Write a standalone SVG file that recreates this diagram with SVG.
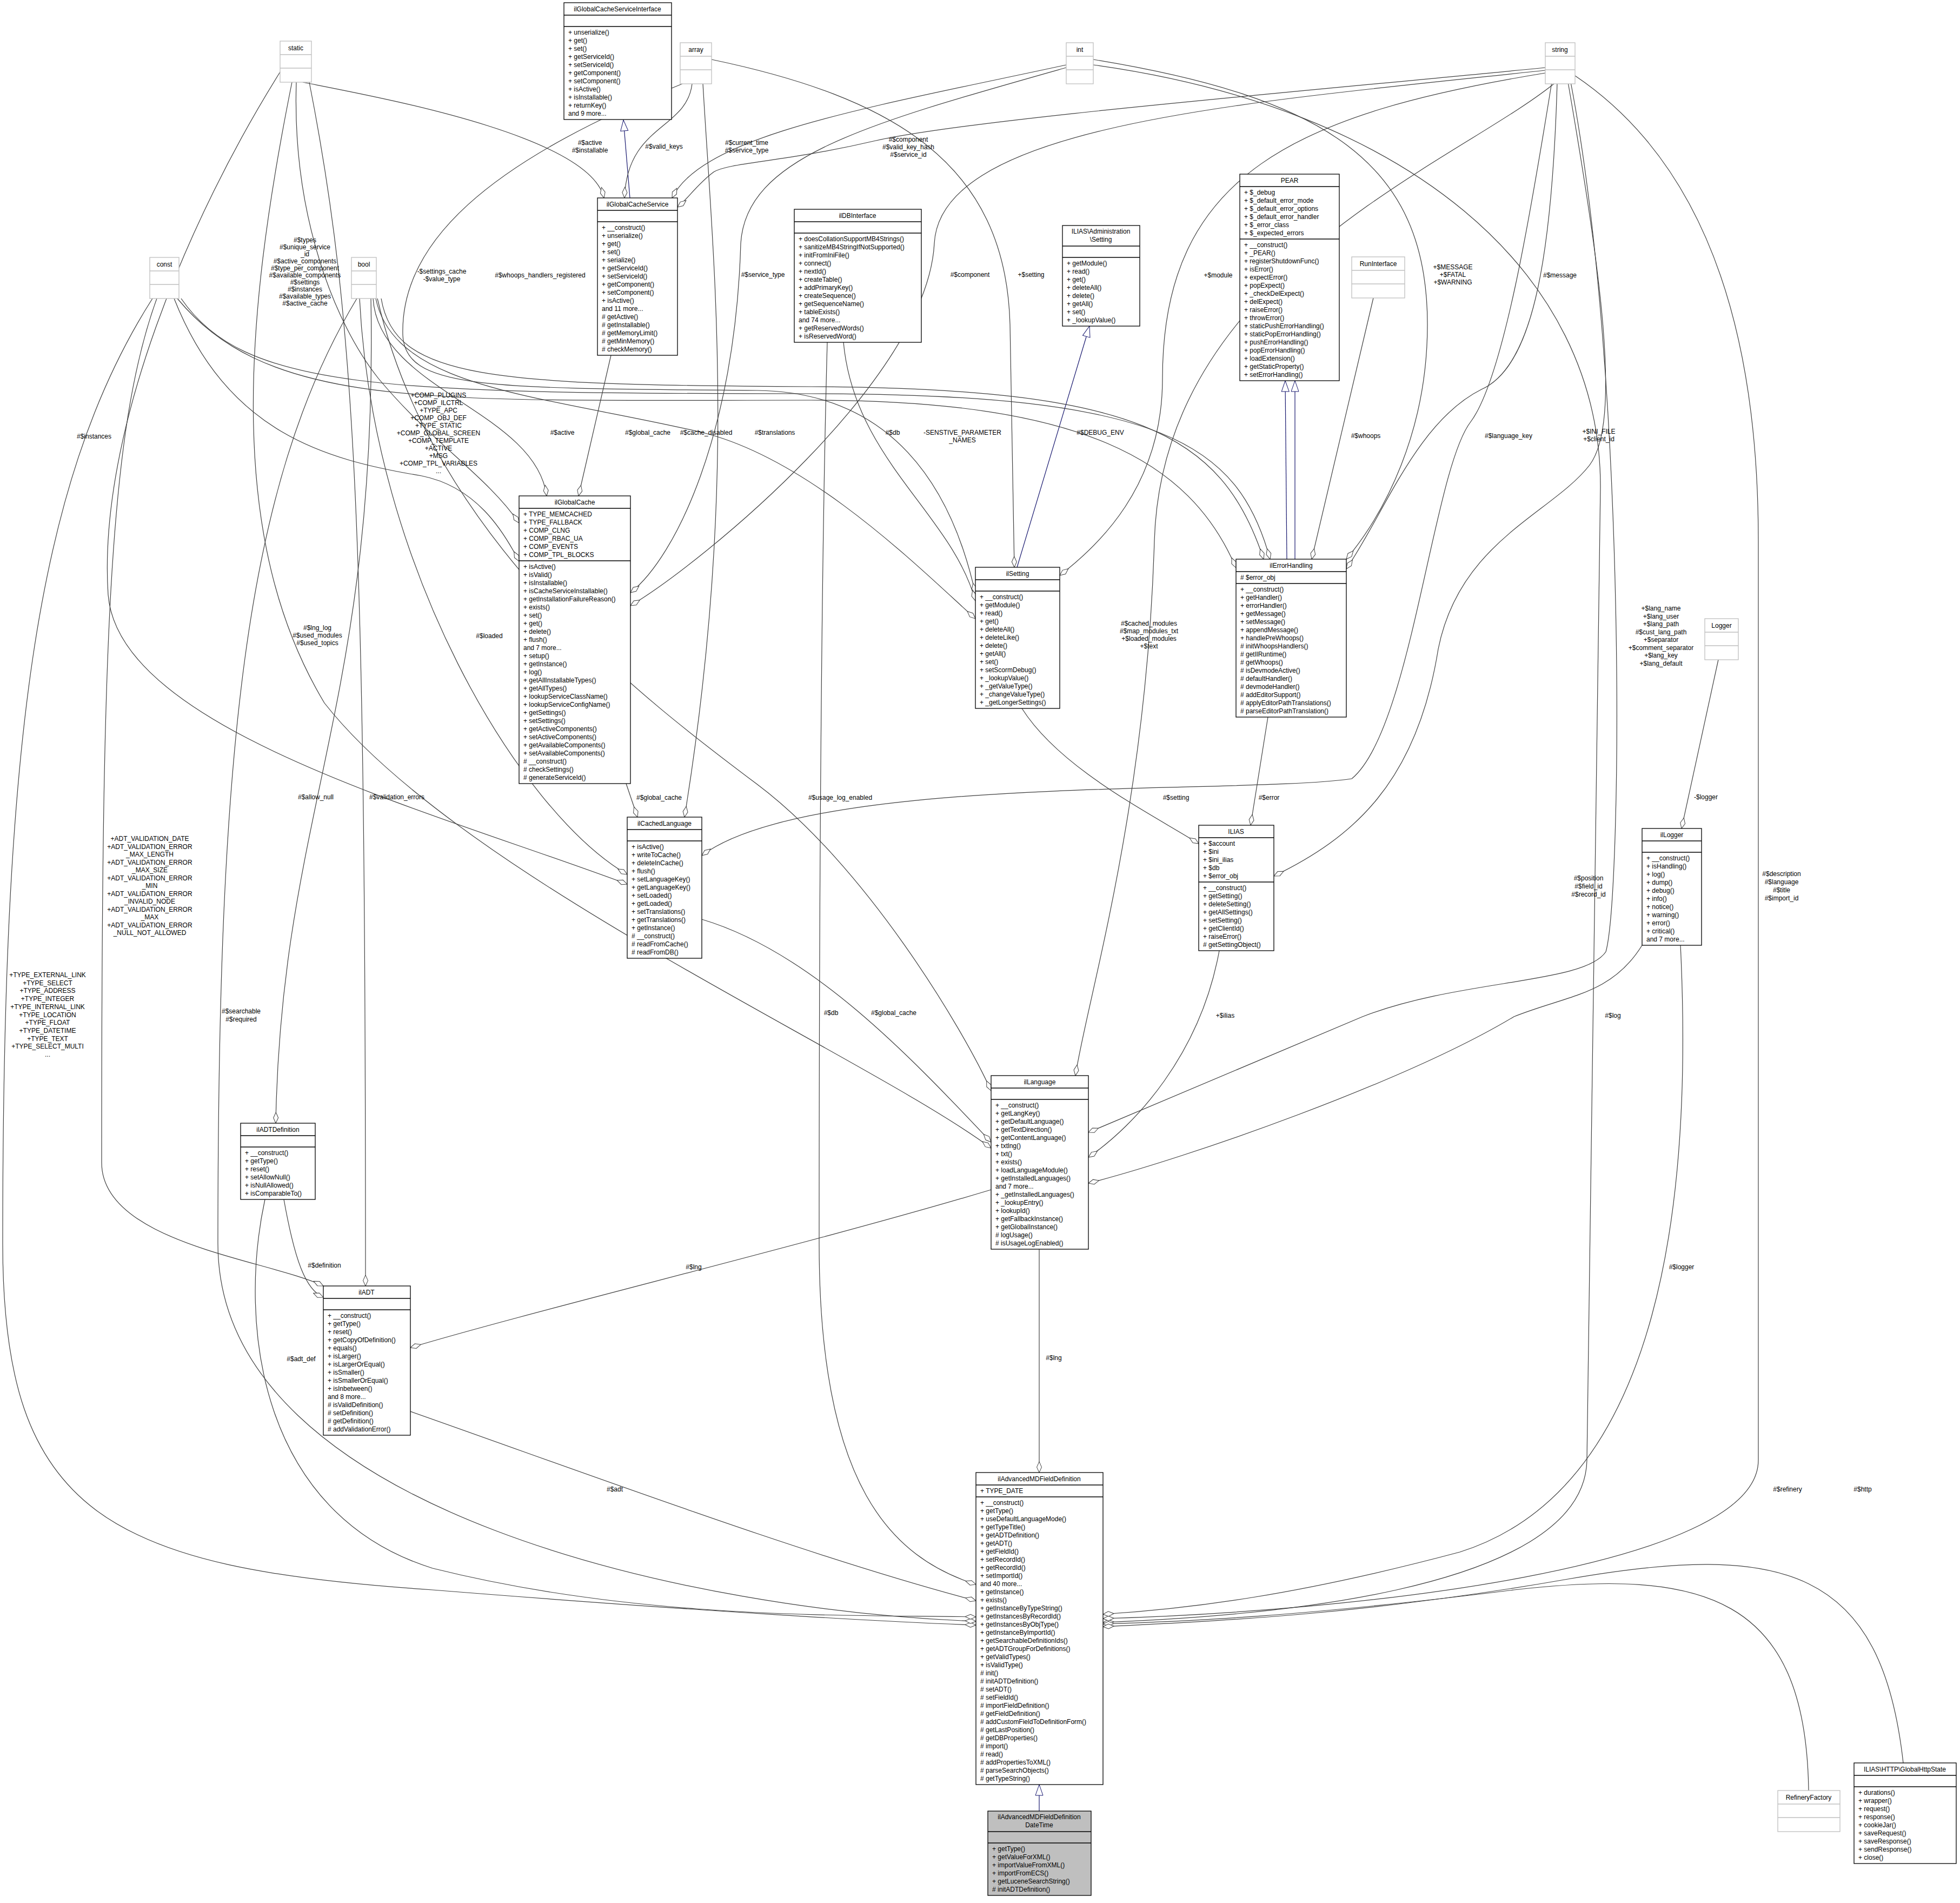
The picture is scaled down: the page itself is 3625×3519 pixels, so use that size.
<svg xmlns="http://www.w3.org/2000/svg" width="3625" height="3519" viewBox="0 0 3625 3519">
<style>
text{font-family:"Liberation Sans",Arial,sans-serif;font-size:12px;fill:#000}
.t{text-anchor:middle}
.l{text-anchor:middle}
.b{fill:#fff;stroke:#000;stroke-width:1.3}
.g{fill:#fff;stroke:#bfbfbf;stroke-width:1.3}
.s{stroke:#000;stroke-width:1.3}
.sg{stroke:#bfbfbf;stroke-width:1.3}
.e{fill:none;stroke:#404040;stroke-width:1.2;marker-end:url(#d)}
.i{fill:none;stroke:#191970;stroke-width:1.2;marker-end:url(#tr)}
</style>
<defs>
<marker id="d" viewBox="0 0 22 12" refX="21" refY="6" markerWidth="22" markerHeight="12" markerUnits="userSpaceOnUse" orient="auto"><path d="M1,6 L11,1.5 L21,6 L11,10.5 Z" fill="#fff" stroke="#404040" stroke-width="1"/></marker>
<marker id="tr" viewBox="0 0 22 16" refX="21" refY="8" markerWidth="22" markerHeight="16" markerUnits="userSpaceOnUse" orient="auto"><path d="M1,1 L21,8 L1,15 Z" fill="#fff" stroke="#191970" stroke-width="1"/></marker>
</defs>
<rect width="3625" height="3519" fill="#fff"/>

<g id="edges">
<path class="i" d="M1165,366 L1153,222"/>
<path class="i" d="M1881,1049 L2015,603"/>
<path class="i" d="M2380,1034 L2377,704"/>
<path class="i" d="M2395,1034 L2395,704"/>
<path class="i" d="M1922,3349 L1922,3300"/>

<path class="e" d="M560,152 C700,180 1090,250 1117,366"/>
<path class="e" d="M1280,155 C1270,240 1160,230 1155,366"/>
<path class="e" d="M1972,120 C1600,200 1300,250 1243,366"/>
<path class="e" d="M2858,125 C2400,170 1800,220 1620,260 C1450,300 1350,300 1320,318 C1290,340 1270,370 1253,383"/>
<path class="e" d="M548,152 C540,400 620,600 700,700 C800,820 900,880 960,967"/>
<path class="e" d="M322,552 C420,800 600,850 780,880 C880,900 930,980 960,1038"/>
<path class="e" d="M690,552 C700,720 990,760 1011,917"/>
<path class="e" d="M1130,657 L1070,917"/>
<path class="e" d="M1972,125 C1600,230 1380,290 1370,450 C1360,800 1250,1030 1166,1096"/>
<path class="e" d="M2858,130 C2300,190 1740,230 1728,450 C1715,700 1300,1040 1166,1120"/>
<path class="e" d="M1316,110 C1650,180 1860,300 1868,600 L1876,1049"/>
<path class="e" d="M2858,135 C2400,210 2150,320 2150,700 C2150,900 2030,1010 1960,1064"/>
<path class="e" d="M1262,155 C900,300 740,450 745,620 C750,720 900,718 1400,722 C1650,725 1760,900 1804,1098"/>
<path class="e" d="M1560,633 C1580,850 1760,950 1804,1111"/>
<path class="e" d="M695,552 C730,720 1000,730 1300,800 C1500,850 1700,1050 1804,1144"/>
<path class="e" d="M705,552 C730,700 900,712 1500,715 C2100,718 2260,800 2337,1034"/>
<path class="e" d="M335,552 C450,720 700,728 1500,728 C2150,728 2290,820 2349,1034"/>
<path class="e" d="M328,552 C500,760 800,740 1500,740 C2000,740 2200,850 2286,1050"/>
<path class="e" d="M2540,551 L2426,1034"/>
<path class="e" d="M2022,110 C2450,180 2640,300 2640,600 C2640,800 2560,950 2490,1034"/>
<path class="e" d="M2880,152 C2870,500 2830,680 2740,720 C2620,780 2560,950 2490,1052"/>
<path class="e" d="M1890,1310 C1960,1420 2120,1500 2217,1560"/>
<path class="e" d="M2345,1326 L2313,1526"/>
<path class="e" d="M2900,152 C2960,500 3000,780 2940,860 C2870,950 2700,1000 2660,1200 C2620,1450 2500,1550 2356,1620"/>
<path class="e" d="M1158,1449 L1179,1511"/>
<path class="e" d="M1300,155 C1320,500 1365,900 1266,1511"/>
<path class="e" d="M2870,152 C2830,400 2780,700 2720,780 C2650,870 2610,1350 2500,1440 C2300,1470 1500,1430 1298,1582"/>
<path class="e" d="M665,552 C690,1050 960,1500 1160,1617"/>
<path class="e" d="M520,130 C350,400 180,800 200,1100 C220,1350 800,1500 1160,1635"/>
<path class="e" d="M2880,150 C2700,300 2150,500 2135,1000 C2120,1500 2010,1850 1989,1989"/>
<path class="e" d="M2905,152 C3010,700 3000,1650 2970,1760 C2930,1820 2700,1810 2520,1880 L2013,2094"/>
<path class="e" d="M2255,1758 C2220,1950 2100,2080 2013,2140"/>
<path class="e" d="M3037,1748 C2980,1840 2900,1840 2800,1880 C2600,2000 2200,2140 2013,2188"/>
<path class="e" d="M1298,1700 C1500,1760 1680,1950 1833,2112"/>
<path class="e" d="M540,152 C450,600 420,1000 600,1300 C850,1620 1600,1950 1833,2123"/>
<path class="e" d="M698,552 C800,1000 1200,1300 1400,1450 C1600,1600 1780,1900 1833,2017"/>
<path class="e" d="M3178,1220 L3110,1532"/>
<path class="e" d="M686,552 C700,1300 520,1500 510,2077"/>
<path class="e" d="M572,152 C660,600 676,1000 676,2378"/>
<path class="e" d="M290,552 C200,800 188,1200 188,2150 C188,2300 500,2330 598,2378"/>
<path class="e" d="M525,2218 C545,2330 565,2385 598,2399"/>
<path class="e" d="M1833,2200 C1500,2300 1000,2420 759,2492"/>
<path class="e" d="M282,552 C60,900 5,1400 5,2300 C5,2800 200,2900 800,2940 C1300,2980 1650,3000 1805,3005"/>
<path class="e" d="M660,552 C450,900 403,1400 403,2300 C403,2800 1300,2980 1805,2998"/>
<path class="e" d="M490,2218 C440,2450 480,2800 800,2900 C1200,3000 1600,2985 1805,2990"/>
<path class="e" d="M759,2610 C1100,2730 1500,2880 1805,2960"/>
<path class="e" d="M1530,633 C1520,1000 1515,1500 1515,2300 C1515,2750 1650,2880 1805,2930"/>
<path class="e" d="M1922,2310 L1922,2723"/>
<path class="e" d="M2022,120 C2600,200 2960,500 2960,900 L2935,2700 C2930,2950 2300,2990 2040,3000"/>
<path class="e" d="M2913,140 C3150,300 3252,600 3252,1000 L3252,2700 C3252,2900 2500,2980 2040,2993"/>
<path class="e" d="M3108,1748 C3130,2200 3080,2750 2700,2870 C2400,2950 2200,2975 2040,2985"/>
<path class="e" d="M3345,3311 C3340,2950 3150,2900 2800,2940 C2400,2990 2200,2998 2040,3003"/>
<path class="e" d="M3520,3260 C3480,2900 3300,2850 2900,2920 C2500,2990 2200,3000 2040,3008"/>

<text class="l" x="1091" y="268"><tspan x="1091">#$active</tspan><tspan x="1091" dy="14">#$installable</tspan></text>
<text class="l" x="1228" y="275">#$valid_keys</text>
<text class="l" x="1381" y="268"><tspan x="1381">#$current_time</tspan><tspan x="1381" dy="14">#$service_type</tspan></text>
<text class="l" x="1680" y="262"><tspan x="1680">#$component</tspan><tspan x="1680" dy="14">#$valid_key_hash</tspan><tspan x="1680" dy="14">#$service_id</tspan></text>
<text class="l" x="564" y="448"><tspan x="564">#$types</tspan><tspan x="564" dy="13">#$unique_service</tspan><tspan x="564" dy="13">_id</tspan><tspan x="564" dy="13">#$active_components</tspan><tspan x="564" dy="13">#$type_per_component</tspan><tspan x="564" dy="13">#$available_components</tspan><tspan x="564" dy="13">#$settings</tspan><tspan x="564" dy="13">#$instances</tspan><tspan x="564" dy="13">#$available_types</tspan><tspan x="564" dy="13">#$active_cache</tspan></text>
<text class="l" x="817" y="506"><tspan x="817">-$settings_cache</tspan><tspan x="817" dy="14">-$value_type</tspan></text>
<text class="l" x="999" y="513">#$whoops_handlers_registered</text>
<text class="l" x="811" y="735"><tspan x="811">+COMP_PLUGINS</tspan><tspan x="811" dy="14">+COMP_ILCTRL</tspan><tspan x="811" dy="14">+TYPE_APC</tspan><tspan x="811" dy="14">+COMP_OBJ_DEF</tspan><tspan x="811" dy="14">+TYPE_STATIC</tspan><tspan x="811" dy="14">+COMP_GLOBAL_SCREEN</tspan><tspan x="811" dy="14">+COMP_TEMPLATE</tspan><tspan x="811" dy="14">+ACTIVE</tspan><tspan x="811" dy="14">+MSG</tspan><tspan x="811" dy="14">+COMP_TPL_VARIABLES</tspan><tspan x="811" dy="14">...</tspan></text>
<text class="l" x="174" y="811">#$instances</text>
<text class="l" x="1411" y="512">#$service_type</text>
<text class="l" x="1794" y="512">#$component</text>
<text class="l" x="1907" y="512">+$setting</text>
<text class="l" x="2253" y="513">+$module</text>
<text class="l" x="2687" y="498"><tspan x="2687">+$MESSAGE</tspan><tspan x="2687" dy="14">+$FATAL</tspan><tspan x="2687" dy="14">+$WARNING</tspan></text>
<text class="l" x="2885" y="513">#$message</text>
<text class="l" x="1040" y="804">#$active</text>
<text class="l" x="1198" y="804">#$global_cache</text>
<text class="l" x="1306" y="804">#$cache_disabled</text>
<text class="l" x="1433" y="804">#$translations</text>
<text class="l" x="1651" y="804">#$db</text>
<text class="l" x="1780" y="804"><tspan x="1780">-SENSTIVE_PARAMETER</tspan><tspan x="1780" dy="14">_NAMES</tspan></text>
<text class="l" x="2035" y="804">#$DEBUG_ENV</text>
<text class="l" x="2526" y="810">#$whoops</text>
<text class="l" x="2790" y="810">#$language_key</text>
<text class="l" x="2957" y="802"><tspan x="2957">+$INI_FILE</tspan><tspan x="2957" dy="14">+$client_id</tspan></text>
<text class="l" x="2125" y="1157"><tspan x="2125">#$cached_modules</tspan><tspan x="2125" dy="14">#$map_modules_txt</tspan><tspan x="2125" dy="14">+$loaded_modules</tspan><tspan x="2125" dy="14">+$text</tspan></text>
<text class="l" x="905" y="1180">#$loaded</text>
<text class="l" x="587" y="1165"><tspan x="587">#$lng_log</tspan><tspan x="587" dy="14">#$used_modules</tspan><tspan x="587" dy="14">#$used_topics</tspan></text>
<text class="l" x="3072" y="1129"><tspan x="3072">+$lang_name</tspan><tspan x="3072" dy="14.5">+$lang_user</tspan><tspan x="3072" dy="14.5">+$lang_path</tspan><tspan x="3072" dy="14.5">#$cust_lang_path</tspan><tspan x="3072" dy="14.5">+$separator</tspan><tspan x="3072" dy="14.5">+$comment_separator</tspan><tspan x="3072" dy="14.5">+$lang_key</tspan><tspan x="3072" dy="14.5">+$lang_default</tspan></text>
<text class="l" x="1219" y="1479">#$global_cache</text>
<text class="l" x="1554" y="1479">#$usage_log_enabled</text>
<text class="l" x="2175" y="1479">#$setting</text>
<text class="l" x="2347" y="1479">#$error</text>
<text class="l" x="3155" y="1478">-$logger</text>
<text class="l" x="584" y="1478">#$allow_null</text>
<text class="l" x="734" y="1478">#$validation_errors</text>
<text class="l" x="277" y="1555"><tspan x="277">+ADT_VALIDATION_DATE</tspan><tspan x="277" dy="14.5">+ADT_VALIDATION_ERROR</tspan><tspan x="277" dy="14.5">_MAX_LENGTH</tspan><tspan x="277" dy="14.5">+ADT_VALIDATION_ERROR</tspan><tspan x="277" dy="14.5">_MAX_SIZE</tspan><tspan x="277" dy="14.5">+ADT_VALIDATION_ERROR</tspan><tspan x="277" dy="14.5">_MIN</tspan><tspan x="277" dy="14.5">+ADT_VALIDATION_ERROR</tspan><tspan x="277" dy="14.5">_INVALID_NODE</tspan><tspan x="277" dy="14.5">+ADT_VALIDATION_ERROR</tspan><tspan x="277" dy="14.5">_MAX</tspan><tspan x="277" dy="14.5">+ADT_VALIDATION_ERROR</tspan><tspan x="277" dy="14.5">_NULL_NOT_ALLOWED</tspan></text>
<text class="l" x="88" y="1807"><tspan x="88">+TYPE_EXTERNAL_LINK</tspan><tspan x="88" dy="14.7">+TYPE_SELECT</tspan><tspan x="88" dy="14.7">+TYPE_ADDRESS</tspan><tspan x="88" dy="14.7">+TYPE_INTEGER</tspan><tspan x="88" dy="14.7">+TYPE_INTERNAL_LINK</tspan><tspan x="88" dy="14.7">+TYPE_LOCATION</tspan><tspan x="88" dy="14.7">+TYPE_FLOAT</tspan><tspan x="88" dy="14.7">+TYPE_DATETIME</tspan><tspan x="88" dy="14.7">+TYPE_TEXT</tspan><tspan x="88" dy="14.7">+TYPE_SELECT_MULTI</tspan><tspan x="88" dy="14.7">...</tspan></text>
<text class="l" x="446" y="1874"><tspan x="446">#$searchable</tspan><tspan x="446" dy="15">#$required</tspan></text>
<text class="l" x="1537" y="1877">#$db</text>
<text class="l" x="1653" y="1877">#$global_cache</text>
<text class="l" x="2266" y="1882">+$ilias</text>
<text class="l" x="2938" y="1628"><tspan x="2938">#$position</tspan><tspan x="2938" dy="15">#$field_id</tspan><tspan x="2938" dy="15">#$record_id</tspan></text>
<text class="l" x="2983" y="1882">#$log</text>
<text class="l" x="3295" y="1620"><tspan x="3295">#$description</tspan><tspan x="3295" dy="15">#$language</tspan><tspan x="3295" dy="15">#$title</tspan><tspan x="3295" dy="15">#$import_id</tspan></text>
<text class="l" x="600" y="2344">#$definition</text>
<text class="l" x="1283" y="2347">#$lng</text>
<text class="l" x="557" y="2517">#$adt_def</text>
<text class="l" x="1949" y="2515">#$lng</text>
<text class="l" x="1137" y="2758">#$adt</text>
<text class="l" x="3110" y="2347">#$logger</text>
<text class="l" x="3306" y="2758">#$refinery</text>
<text class="l" x="3445" y="2758">#$http</text>
</g>

<g id="static"><rect class="g" x="518" y="76" width="58" height="76"/><line class="sg" x1="518" y1="101" x2="576" y2="101"/><line class="sg" x1="518" y1="126" x2="576" y2="126"/><text class="t" x="547" y="93">static</text></g>
<g id="array"><rect class="g" x="1258" y="79" width="58" height="76"/><line class="sg" x1="1258" y1="104" x2="1316" y2="104"/><line class="sg" x1="1258" y1="129" x2="1316" y2="129"/><text class="t" x="1287" y="96">array</text></g>
<g id="int"><rect class="g" x="1972" y="79" width="50" height="76"/><line class="sg" x1="1972" y1="104" x2="2022" y2="104"/><line class="sg" x1="1972" y1="129" x2="2022" y2="129"/><text class="t" x="1997" y="96">int</text></g>
<g id="string"><rect class="g" x="2858" y="79" width="55" height="76"/><line class="sg" x1="2858" y1="104" x2="2913" y2="104"/><line class="sg" x1="2858" y1="129" x2="2913" y2="129"/><text class="t" x="2885" y="96">string</text></g>
<g id="const"><rect class="g" x="277" y="476" width="54" height="76"/><line class="sg" x1="277" y1="501" x2="331" y2="501"/><line class="sg" x1="277" y1="526" x2="331" y2="526"/><text class="t" x="304" y="493">const</text></g>
<g id="bool"><rect class="g" x="650" y="476" width="46" height="76"/><line class="sg" x1="650" y1="501" x2="696" y2="501"/><line class="sg" x1="650" y1="526" x2="696" y2="526"/><text class="t" x="673" y="493">bool</text></g>
<g id="RunInterface"><rect class="g" x="2500" y="475" width="98" height="76"/><line class="sg" x1="2500" y1="500" x2="2598" y2="500"/><line class="sg" x1="2500" y1="525" x2="2598" y2="525"/><text class="t" x="2549" y="492">RunInterface</text></g>
<g id="Logger"><rect class="g" x="3153" y="1144" width="62" height="76"/><line class="sg" x1="3153" y1="1169" x2="3215" y2="1169"/><line class="sg" x1="3153" y1="1194" x2="3215" y2="1194"/><text class="t" x="3184" y="1161">Logger</text></g>
<g id="RefineryFactory"><rect class="g" x="3288" y="3311" width="115" height="76"/><line class="sg" x1="3288" y1="3336" x2="3403" y2="3336"/><line class="sg" x1="3288" y1="3361" x2="3403" y2="3361"/><text class="t" x="3345" y="3328">RefineryFactory</text></g>

<g id="ilGlobalCacheServiceInterface"><rect class="b" x="1043" y="5" width="199" height="216"/><line class="s" x1="1043" y1="28" x2="1242" y2="28"/><line class="s" x1="1043" y1="49" x2="1242" y2="49"/><text class="t" x="1142" y="21">ilGlobalCacheServiceInterface</text>
<text x="1051" y="64"><tspan x="1051">+ unserialize()</tspan><tspan x="1051" dy="15">+ get()</tspan><tspan x="1051" dy="15">+ set()</tspan><tspan x="1051" dy="15">+ getServiceId()</tspan><tspan x="1051" dy="15">+ setServiceId()</tspan><tspan x="1051" dy="15">+ getComponent()</tspan><tspan x="1051" dy="15">+ setComponent()</tspan><tspan x="1051" dy="15">+ isActive()</tspan><tspan x="1051" dy="15">+ isInstallable()</tspan><tspan x="1051" dy="15">+ returnKey()</tspan><tspan x="1051" dy="15">and 9 more...</tspan></text></g>

<g id="ilGlobalCacheService"><rect class="b" x="1105" y="366" width="148" height="291"/><line class="s" x1="1105" y1="389" x2="1253" y2="389"/><line class="s" x1="1105" y1="410" x2="1253" y2="410"/><text class="t" x="1179" y="382">ilGlobalCacheService</text>
<text x="1113" y="425"><tspan x="1113">+ __construct()</tspan><tspan x="1113" dy="15">+ unserialize()</tspan><tspan x="1113" dy="15">+ get()</tspan><tspan x="1113" dy="15">+ set()</tspan><tspan x="1113" dy="15">+ serialize()</tspan><tspan x="1113" dy="15">+ getServiceId()</tspan><tspan x="1113" dy="15">+ setServiceId()</tspan><tspan x="1113" dy="15">+ getComponent()</tspan><tspan x="1113" dy="15">+ setComponent()</tspan><tspan x="1113" dy="15">+ isActive()</tspan><tspan x="1113" dy="15">and 11 more...</tspan><tspan x="1113" dy="15"># getActive()</tspan><tspan x="1113" dy="15"># getInstallable()</tspan><tspan x="1113" dy="15"># getMemoryLimit()</tspan><tspan x="1113" dy="15"># getMinMemory()</tspan><tspan x="1113" dy="15"># checkMemory()</tspan></text></g>

<g id="ilDBInterface"><rect class="b" x="1469" y="387" width="235" height="246"/><line class="s" x1="1469" y1="410" x2="1704" y2="410"/><line class="s" x1="1469" y1="431" x2="1704" y2="431"/><text class="t" x="1586" y="403">ilDBInterface</text>
<text x="1477" y="446"><tspan x="1477">+ doesCollationSupportMB4Strings()</tspan><tspan x="1477" dy="15">+ sanitizeMB4StringIfNotSupported()</tspan><tspan x="1477" dy="15">+ initFromIniFile()</tspan><tspan x="1477" dy="15">+ connect()</tspan><tspan x="1477" dy="15">+ nextId()</tspan><tspan x="1477" dy="15">+ createTable()</tspan><tspan x="1477" dy="15">+ addPrimaryKey()</tspan><tspan x="1477" dy="15">+ createSequence()</tspan><tspan x="1477" dy="15">+ getSequenceName()</tspan><tspan x="1477" dy="15">+ tableExists()</tspan><tspan x="1477" dy="15">and 74 more...</tspan><tspan x="1477" dy="15">+ getReservedWords()</tspan><tspan x="1477" dy="15">+ isReservedWord()</tspan></text></g>

<g id="ILIAS_Administration_Setting"><rect class="b" x="1965" y="417" width="143" height="186"/><line class="s" x1="1965" y1="455" x2="2108" y2="455"/><line class="s" x1="1965" y1="476" x2="2108" y2="476"/><text class="t" x="2036" y="432"><tspan x="2036">ILIAS\Administration</tspan><tspan x="2036" dy="15">\Setting</tspan></text>
<text x="1973" y="491"><tspan x="1973">+ getModule()</tspan><tspan x="1973" dy="15">+ read()</tspan><tspan x="1973" dy="15">+ get()</tspan><tspan x="1973" dy="15">+ deleteAll()</tspan><tspan x="1973" dy="15">+ delete()</tspan><tspan x="1973" dy="15">+ getAll()</tspan><tspan x="1973" dy="15">+ set()</tspan><tspan x="1973" dy="15">+ _lookupValue()</tspan></text></g>

<g id="PEAR"><rect class="b" x="2293" y="322" width="184" height="382"/><line class="s" x1="2293" y1="345" x2="2477" y2="345"/><line class="s" x1="2293" y1="442" x2="2477" y2="442"/><text class="t" x="2385" y="338">PEAR</text>
<text x="2301" y="360"><tspan x="2301">+ $_debug</tspan><tspan x="2301" dy="15">+ $_default_error_mode</tspan><tspan x="2301" dy="15">+ $_default_error_options</tspan><tspan x="2301" dy="15">+ $_default_error_handler</tspan><tspan x="2301" dy="15">+ $_error_class</tspan><tspan x="2301" dy="15">+ $_expected_errors</tspan></text>
<text x="2301" y="457"><tspan x="2301">+ __construct()</tspan><tspan x="2301" dy="15">+ _PEAR()</tspan><tspan x="2301" dy="15">+ registerShutdownFunc()</tspan><tspan x="2301" dy="15">+ isError()</tspan><tspan x="2301" dy="15">+ expectError()</tspan><tspan x="2301" dy="15">+ popExpect()</tspan><tspan x="2301" dy="15">+ _checkDelExpect()</tspan><tspan x="2301" dy="15">+ delExpect()</tspan><tspan x="2301" dy="15">+ raiseError()</tspan><tspan x="2301" dy="15">+ throwError()</tspan><tspan x="2301" dy="15">+ staticPushErrorHandling()</tspan><tspan x="2301" dy="15">+ staticPopErrorHandling()</tspan><tspan x="2301" dy="15">+ pushErrorHandling()</tspan><tspan x="2301" dy="15">+ popErrorHandling()</tspan><tspan x="2301" dy="15">+ loadExtension()</tspan><tspan x="2301" dy="15">+ getStaticProperty()</tspan><tspan x="2301" dy="15">+ setErrorHandling()</tspan></text></g>

<g id="ilGlobalCache"><rect class="b" x="960" y="917" width="206" height="532"/><line class="s" x1="960" y1="940" x2="1166" y2="940"/><line class="s" x1="960" y1="1037" x2="1166" y2="1037"/><text class="t" x="1063" y="933">ilGlobalCache</text>
<text x="968" y="955"><tspan x="968">+ TYPE_MEMCACHED</tspan><tspan x="968" dy="15">+ TYPE_FALLBACK</tspan><tspan x="968" dy="15">+ COMP_CLNG</tspan><tspan x="968" dy="15">+ COMP_RBAC_UA</tspan><tspan x="968" dy="15">+ COMP_EVENTS</tspan><tspan x="968" dy="15">+ COMP_TPL_BLOCKS</tspan></text>
<text x="968" y="1052"><tspan x="968">+ isActive()</tspan><tspan x="968" dy="15">+ isValid()</tspan><tspan x="968" dy="15">+ isInstallable()</tspan><tspan x="968" dy="15">+ isCacheServiceInstallable()</tspan><tspan x="968" dy="15">+ getInstallationFailureReason()</tspan><tspan x="968" dy="15">+ exists()</tspan><tspan x="968" dy="15">+ set()</tspan><tspan x="968" dy="15">+ get()</tspan><tspan x="968" dy="15">+ delete()</tspan><tspan x="968" dy="15">+ flush()</tspan><tspan x="968" dy="15">and 7 more...</tspan><tspan x="968" dy="15">+ setup()</tspan><tspan x="968" dy="15">+ getInstance()</tspan><tspan x="968" dy="15">+ log()</tspan><tspan x="968" dy="15">+ getAllInstallableTypes()</tspan><tspan x="968" dy="15">+ getAllTypes()</tspan><tspan x="968" dy="15">+ lookupServiceClassName()</tspan><tspan x="968" dy="15">+ lookupServiceConfigName()</tspan><tspan x="968" dy="15">+ getSettings()</tspan><tspan x="968" dy="15">+ setSettings()</tspan><tspan x="968" dy="15">+ getActiveComponents()</tspan><tspan x="968" dy="15">+ setActiveComponents()</tspan><tspan x="968" dy="15">+ getAvailableComponents()</tspan><tspan x="968" dy="15">+ setAvailableComponents()</tspan><tspan x="968" dy="15"># __construct()</tspan><tspan x="968" dy="15"># checkSettings()</tspan><tspan x="968" dy="15"># generateServiceId()</tspan></text></g>

<g id="ilSetting"><rect class="b" x="1804" y="1049" width="156" height="261"/><line class="s" x1="1804" y1="1072" x2="1960" y2="1072"/><line class="s" x1="1804" y1="1093" x2="1960" y2="1093"/><text class="t" x="1882" y="1065">ilSetting</text>
<text x="1812" y="1108"><tspan x="1812">+ __construct()</tspan><tspan x="1812" dy="15">+ getModule()</tspan><tspan x="1812" dy="15">+ read()</tspan><tspan x="1812" dy="15">+ get()</tspan><tspan x="1812" dy="15">+ deleteAll()</tspan><tspan x="1812" dy="15">+ deleteLike()</tspan><tspan x="1812" dy="15">+ delete()</tspan><tspan x="1812" dy="15">+ getAll()</tspan><tspan x="1812" dy="15">+ set()</tspan><tspan x="1812" dy="15">+ setScormDebug()</tspan><tspan x="1812" dy="15">+ _lookupValue()</tspan><tspan x="1812" dy="15">+ _getValueType()</tspan><tspan x="1812" dy="15">+ _changeValueType()</tspan><tspan x="1812" dy="15">+ _getLongerSettings()</tspan></text></g>

<g id="ilErrorHandling"><rect class="b" x="2286" y="1034" width="204" height="292"/><line class="s" x1="2286" y1="1057" x2="2490" y2="1057"/><line class="s" x1="2286" y1="1079" x2="2490" y2="1079"/><text class="t" x="2388" y="1050">ilErrorHandling</text>
<text x="2294" y="1072"># $error_obj</text>
<text x="2294" y="1094"><tspan x="2294">+ __construct()</tspan><tspan x="2294" dy="15">+ getHandler()</tspan><tspan x="2294" dy="15">+ errorHandler()</tspan><tspan x="2294" dy="15">+ getMessage()</tspan><tspan x="2294" dy="15">+ setMessage()</tspan><tspan x="2294" dy="15">+ appendMessage()</tspan><tspan x="2294" dy="15">+ handlePreWhoops()</tspan><tspan x="2294" dy="15"># initWhoopsHandlers()</tspan><tspan x="2294" dy="15"># getIlRuntime()</tspan><tspan x="2294" dy="15"># getWhoops()</tspan><tspan x="2294" dy="15"># isDevmodeActive()</tspan><tspan x="2294" dy="15"># defaultHandler()</tspan><tspan x="2294" dy="15"># devmodeHandler()</tspan><tspan x="2294" dy="15"># addEditorSupport()</tspan><tspan x="2294" dy="15"># applyEditorPathTranslations()</tspan><tspan x="2294" dy="15"># parseEditorPathTranslation()</tspan></text></g>

<g id="ilCachedLanguage"><rect class="b" x="1160" y="1511" width="138" height="261"/><line class="s" x1="1160" y1="1534" x2="1298" y2="1534"/><line class="s" x1="1160" y1="1555" x2="1298" y2="1555"/><text class="t" x="1229" y="1527">ilCachedLanguage</text>
<text x="1168" y="1570"><tspan x="1168">+ isActive()</tspan><tspan x="1168" dy="15">+ writeToCache()</tspan><tspan x="1168" dy="15">+ deleteInCache()</tspan><tspan x="1168" dy="15">+ flush()</tspan><tspan x="1168" dy="15">+ setLanguageKey()</tspan><tspan x="1168" dy="15">+ getLanguageKey()</tspan><tspan x="1168" dy="15">+ setLoaded()</tspan><tspan x="1168" dy="15">+ getLoaded()</tspan><tspan x="1168" dy="15">+ setTranslations()</tspan><tspan x="1168" dy="15">+ getTranslations()</tspan><tspan x="1168" dy="15">+ getInstance()</tspan><tspan x="1168" dy="15"># __construct()</tspan><tspan x="1168" dy="15"># readFromCache()</tspan><tspan x="1168" dy="15"># readFromDB()</tspan></text></g>

<g id="ILIAS"><rect class="b" x="2217" y="1526" width="139" height="232"/><line class="s" x1="2217" y1="1549" x2="2356" y2="1549"/><line class="s" x1="2217" y1="1631" x2="2356" y2="1631"/><text class="t" x="2286" y="1542">ILIAS</text>
<text x="2225" y="1564"><tspan x="2225">+ $account</tspan><tspan x="2225" dy="15">+ $ini</tspan><tspan x="2225" dy="15">+ $ini_ilias</tspan><tspan x="2225" dy="15">+ $db</tspan><tspan x="2225" dy="15">+ $error_obj</tspan></text>
<text x="2225" y="1646"><tspan x="2225">+ __construct()</tspan><tspan x="2225" dy="15">+ getSetting()</tspan><tspan x="2225" dy="15">+ deleteSetting()</tspan><tspan x="2225" dy="15">+ getAllSettings()</tspan><tspan x="2225" dy="15">+ setSetting()</tspan><tspan x="2225" dy="15">+ getClientId()</tspan><tspan x="2225" dy="15">+ raiseError()</tspan><tspan x="2225" dy="15"># getSettingObject()</tspan></text></g>

<g id="ilLogger"><rect class="b" x="3037" y="1532" width="110" height="216"/><line class="s" x1="3037" y1="1555" x2="3147" y2="1555"/><line class="s" x1="3037" y1="1576" x2="3147" y2="1576"/><text class="t" x="3092" y="1548">ilLogger</text>
<text x="3045" y="1591"><tspan x="3045">+ __construct()</tspan><tspan x="3045" dy="15">+ isHandling()</tspan><tspan x="3045" dy="15">+ log()</tspan><tspan x="3045" dy="15">+ dump()</tspan><tspan x="3045" dy="15">+ debug()</tspan><tspan x="3045" dy="15">+ info()</tspan><tspan x="3045" dy="15">+ notice()</tspan><tspan x="3045" dy="15">+ warning()</tspan><tspan x="3045" dy="15">+ error()</tspan><tspan x="3045" dy="15">+ critical()</tspan><tspan x="3045" dy="15">and 7 more...</tspan></text></g>

<g id="ilADTDefinition"><rect class="b" x="445" y="2077" width="138" height="141"/><line class="s" x1="445" y1="2100" x2="583" y2="2100"/><line class="s" x1="445" y1="2121" x2="583" y2="2121"/><text class="t" x="514" y="2093">ilADTDefinition</text>
<text x="453" y="2136"><tspan x="453">+ __construct()</tspan><tspan x="453" dy="15">+ getType()</tspan><tspan x="453" dy="15">+ reset()</tspan><tspan x="453" dy="15">+ setAllowNull()</tspan><tspan x="453" dy="15">+ isNullAllowed()</tspan><tspan x="453" dy="15">+ isComparableTo()</tspan></text></g>

<g id="ilLanguage"><rect class="b" x="1833" y="1989" width="180" height="321"/><line class="s" x1="1833" y1="2012" x2="2013" y2="2012"/><line class="s" x1="1833" y1="2033" x2="2013" y2="2033"/><text class="t" x="1923" y="2005">ilLanguage</text>
<text x="1841" y="2048"><tspan x="1841">+ __construct()</tspan><tspan x="1841" dy="15">+ getLangKey()</tspan><tspan x="1841" dy="15">+ getDefaultLanguage()</tspan><tspan x="1841" dy="15">+ getTextDirection()</tspan><tspan x="1841" dy="15">+ getContentLanguage()</tspan><tspan x="1841" dy="15">+ txtlng()</tspan><tspan x="1841" dy="15">+ txt()</tspan><tspan x="1841" dy="15">+ exists()</tspan><tspan x="1841" dy="15">+ loadLanguageModule()</tspan><tspan x="1841" dy="15">+ getInstalledLanguages()</tspan><tspan x="1841" dy="15">and 7 more...</tspan><tspan x="1841" dy="15">+ _getInstalledLanguages()</tspan><tspan x="1841" dy="15">+ _lookupEntry()</tspan><tspan x="1841" dy="15">+ lookupId()</tspan><tspan x="1841" dy="15">+ getFallbackInstance()</tspan><tspan x="1841" dy="15">+ getGlobalInstance()</tspan><tspan x="1841" dy="15"># logUsage()</tspan><tspan x="1841" dy="15"># isUsageLogEnabled()</tspan></text></g>

<g id="ilADT"><rect class="b" x="598" y="2378" width="161" height="276"/><line class="s" x1="598" y1="2401" x2="759" y2="2401"/><line class="s" x1="598" y1="2422" x2="759" y2="2422"/><text class="t" x="678" y="2394">ilADT</text>
<text x="606" y="2437"><tspan x="606">+ __construct()</tspan><tspan x="606" dy="15">+ getType()</tspan><tspan x="606" dy="15">+ reset()</tspan><tspan x="606" dy="15">+ getCopyOfDefinition()</tspan><tspan x="606" dy="15">+ equals()</tspan><tspan x="606" dy="15">+ isLarger()</tspan><tspan x="606" dy="15">+ isLargerOrEqual()</tspan><tspan x="606" dy="15">+ isSmaller()</tspan><tspan x="606" dy="15">+ isSmallerOrEqual()</tspan><tspan x="606" dy="15">+ isInbetween()</tspan><tspan x="606" dy="15">and 8 more...</tspan><tspan x="606" dy="15"># isValidDefinition()</tspan><tspan x="606" dy="15"># setDefinition()</tspan><tspan x="606" dy="15"># getDefinition()</tspan><tspan x="606" dy="15"># addValidationError()</tspan></text></g>

<g id="ilAdvancedMDFieldDefinition"><rect class="b" x="1805" y="2723" width="235" height="577"/><line class="s" x1="1805" y1="2746" x2="2040" y2="2746"/><line class="s" x1="1805" y1="2768" x2="2040" y2="2768"/><text class="t" x="1922" y="2739">ilAdvancedMDFieldDefinition</text>
<text x="1813" y="2761">+ TYPE_DATE</text>
<text x="1813" y="2783"><tspan x="1813">+ __construct()</tspan><tspan x="1813" dy="15">+ getType()</tspan><tspan x="1813" dy="15">+ useDefaultLanguageMode()</tspan><tspan x="1813" dy="15">+ getTypeTitle()</tspan><tspan x="1813" dy="15">+ getADTDefinition()</tspan><tspan x="1813" dy="15">+ getADT()</tspan><tspan x="1813" dy="15">+ getFieldId()</tspan><tspan x="1813" dy="15">+ setRecordId()</tspan><tspan x="1813" dy="15">+ getRecordId()</tspan><tspan x="1813" dy="15">+ setImportId()</tspan><tspan x="1813" dy="15">and 40 more...</tspan><tspan x="1813" dy="15">+ getInstance()</tspan><tspan x="1813" dy="15">+ exists()</tspan><tspan x="1813" dy="15">+ getInstanceByTypeString()</tspan><tspan x="1813" dy="15">+ getInstancesByRecordId()</tspan><tspan x="1813" dy="15">+ getInstancesByObjType()</tspan><tspan x="1813" dy="15">+ getInstanceByImportId()</tspan><tspan x="1813" dy="15">+ getSearchableDefinitionIds()</tspan><tspan x="1813" dy="15">+ getADTGroupForDefinitions()</tspan><tspan x="1813" dy="15">+ getValidTypes()</tspan><tspan x="1813" dy="15">+ isValidType()</tspan><tspan x="1813" dy="15"># init()</tspan><tspan x="1813" dy="15"># initADTDefinition()</tspan><tspan x="1813" dy="15"># setADT()</tspan><tspan x="1813" dy="15"># setFieldId()</tspan><tspan x="1813" dy="15"># importFieldDefinition()</tspan><tspan x="1813" dy="15"># getFieldDefinition()</tspan><tspan x="1813" dy="15"># addCustomFieldToDefinitionForm()</tspan><tspan x="1813" dy="15"># getLastPosition()</tspan><tspan x="1813" dy="15"># getDBProperties()</tspan><tspan x="1813" dy="15"># import()</tspan><tspan x="1813" dy="15"># read()</tspan><tspan x="1813" dy="15"># addPropertiesToXML()</tspan><tspan x="1813" dy="15"># parseSearchObjects()</tspan><tspan x="1813" dy="15"># getTypeString()</tspan></text></g>

<g id="ilAdvancedMDFieldDefinitionDateTime"><rect x="1827" y="3349" width="191" height="156" fill="#bfbfbf" stroke="#000" stroke-width="1.3"/><line class="s" x1="1827" y1="3387" x2="2018" y2="3387"/><line class="s" x1="1827" y1="3408" x2="2018" y2="3408"/><text class="t" x="1922" y="3364"><tspan x="1922">ilAdvancedMDFieldDefinition</tspan><tspan x="1922" dy="15">DateTime</tspan></text>
<text x="1835" y="3423"><tspan x="1835">+ getType()</tspan><tspan x="1835" dy="15">+ getValueForXML()</tspan><tspan x="1835" dy="15">+ importValueFromXML()</tspan><tspan x="1835" dy="15">+ importFromECS()</tspan><tspan x="1835" dy="15">+ getLuceneSearchString()</tspan><tspan x="1835" dy="15"># initADTDefinition()</tspan></text></g>

<g id="ILIAS_HTTP_GlobalHttpState"><rect class="b" x="3429" y="3260" width="189" height="186"/><line class="s" x1="3429" y1="3283" x2="3618" y2="3283"/><line class="s" x1="3429" y1="3304" x2="3618" y2="3304"/><text class="t" x="3523" y="3276">ILIAS\HTTP\GlobalHttpState</text>
<text x="3437" y="3319"><tspan x="3437">+ durations()</tspan><tspan x="3437" dy="15">+ wrapper()</tspan><tspan x="3437" dy="15">+ request()</tspan><tspan x="3437" dy="15">+ response()</tspan><tspan x="3437" dy="15">+ cookieJar()</tspan><tspan x="3437" dy="15">+ saveRequest()</tspan><tspan x="3437" dy="15">+ saveResponse()</tspan><tspan x="3437" dy="15">+ sendResponse()</tspan><tspan x="3437" dy="15">+ close()</tspan></text></g>
</svg>
